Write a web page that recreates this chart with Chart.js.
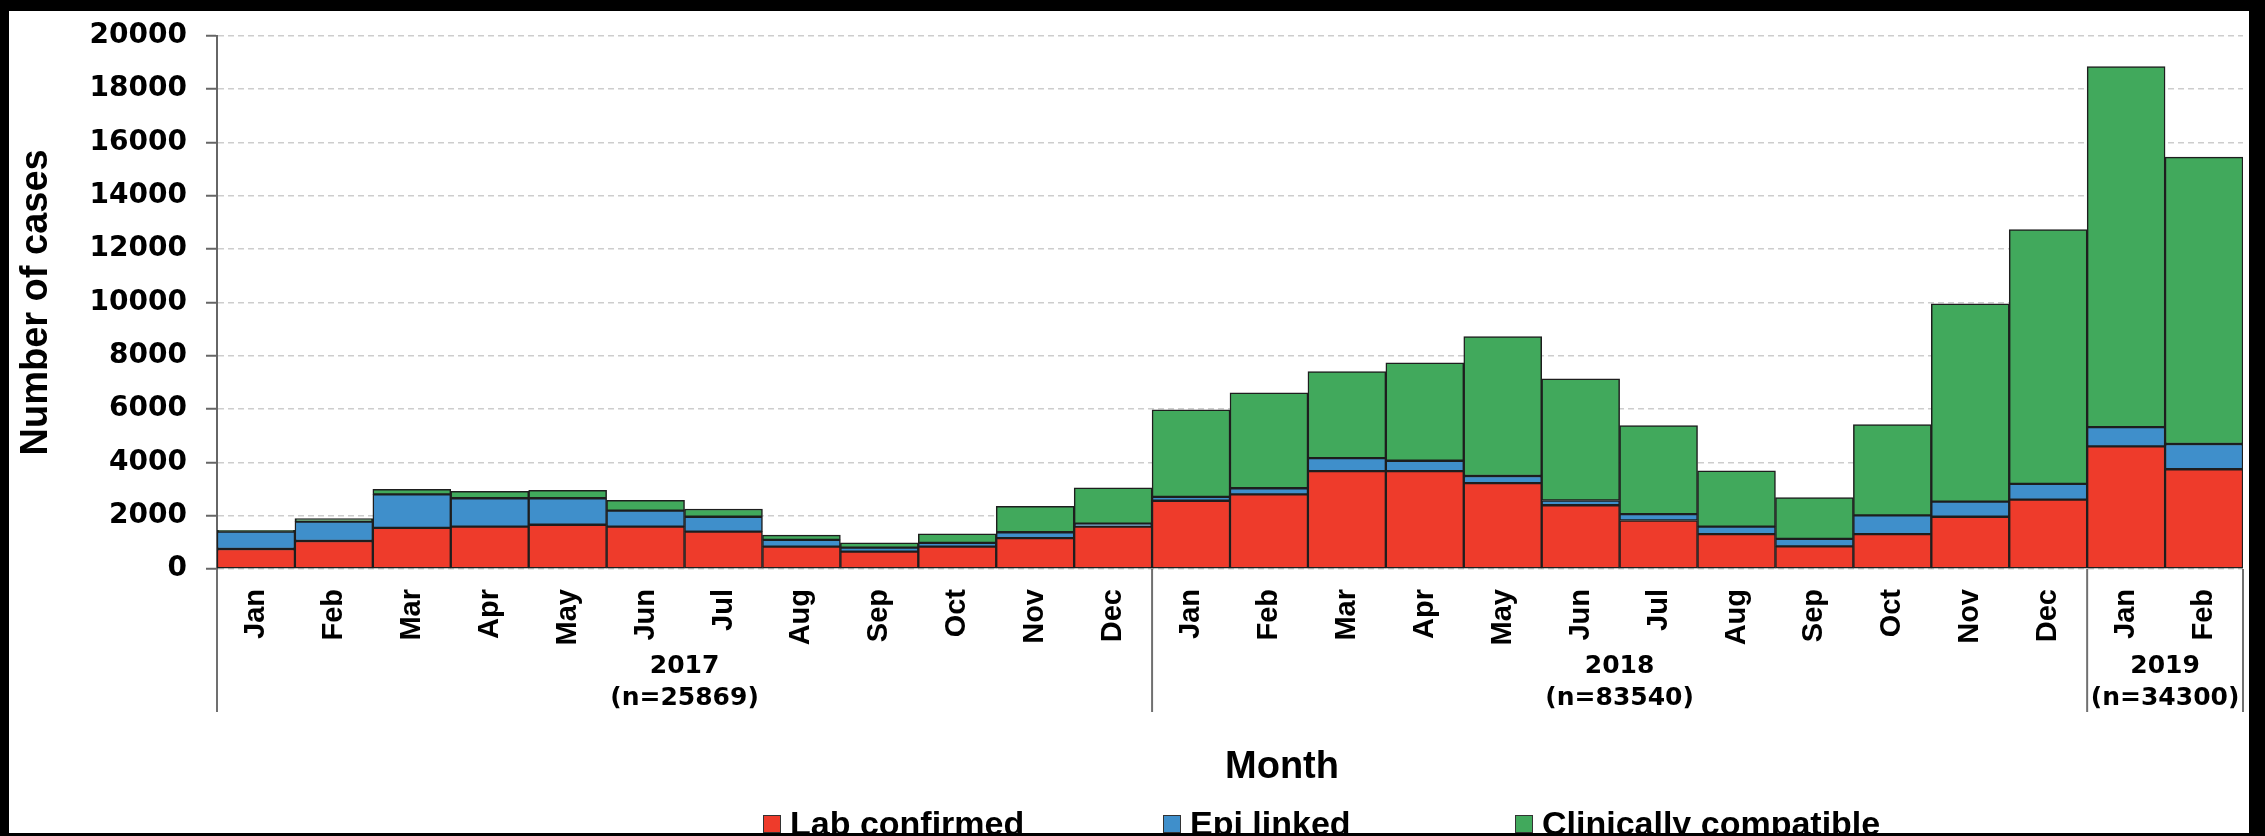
<!DOCTYPE html>
<html>
<head>
<meta charset="utf-8">
<script src="https://cdn.jsdelivr.net/npm/chart.js@4.4.1/dist/chart.umd.min.js"></script>
<style>
  html, body { margin: 0; padding: 0; background: #fff; }
  #wrap { position: relative; width: 2265px; height: 836px; overflow: hidden; }
  #frame {
    position: absolute; left: 0; top: 0; width: 2265px; height: 836px;
    box-sizing: border-box; pointer-events: none;
    border-style: solid; border-color: #000;
    border-width: 11px 16px 3px 9px;
  }
</style>
</head>
<body>
<div id="wrap">
  <canvas id="casesChart" width="2265" height="836"></canvas>
  <div id="frame"></div>
</div>
<script>
// categories
var months = ['Jan', 'Feb', 'Mar', 'Apr', 'May', 'Jun', 'Jul', 'Aug', 'Sep', 'Oct', 'Nov', 'Dec',
              'Jan', 'Feb', 'Mar', 'Apr', 'May', 'Jun', 'Jul', 'Aug', 'Sep', 'Oct', 'Nov', 'Dec',
              'Jan', 'Feb'];
var years = ['2017', '2018', '2019'];
var yearTotals = ['(n=25869)', '(n=83540)', '(n=34300)'];
var monthsPerYear = [12, 12, 2];

// series values
var labConfirmed = [750, 1050, 1540, 1590, 1660, 1590, 1400, 840, 650, 840, 1160, 1590,
                    2560, 2800, 3670, 3670, 3220, 2390, 1820, 1310, 850, 1310, 1960, 2600,
                    4600, 3740];
var epiLinked = [650, 730, 1260, 1065, 995, 600, 560, 250, 150, 140, 220, 110,
                 145, 230, 490, 390, 270, 180, 240, 280, 280, 700, 570, 590,
                 720, 950];
var clinicallyCompatible = [50, 110, 190, 255, 300, 390, 290, 180, 180, 340, 970, 1345,
                            3265, 3580, 3245, 3670, 5230, 4560, 3320, 2090, 1550, 3410, 7420, 9540,
                            13530, 10760];

var seriesNames = ['Lab confirmed', 'Epi linked', 'Clinically compatible'];
var seriesColors = ['#EE3B2B', '#3F8FCB', '#41A95C'];

// y axis ticks
var yMax = 20000;
var yStep = 2000;

// legend text positions
var legendTextX = [790, 1190, 1542];

// draws the year groups under the month labels, the "Month" title and the legend
var yearGroups = {
    id: 'yearGroups',
    afterDraw: function (chart) {
        var ctx = chart.ctx;
        var x = chart.scales.x;
        var area = chart.chartArea;
        var half = (x.getPixelForValue(1) - x.getPixelForValue(0)) / 2;

        ctx.save();
        ctx.strokeStyle = '#707070';
        ctx.lineWidth = 2;
        ctx.fillStyle = '#000';
        ctx.textAlign = 'center';
        ctx.textBaseline = 'middle';
        ctx.font = 'bold 25px "DejaVu Sans", sans-serif';

        var first = 0;
        var edge0 = x.getPixelForValue(0) - half;
        ctx.beginPath();
        ctx.moveTo(edge0, area.bottom);
        ctx.lineTo(edge0, area.bottom + 143);
        ctx.stroke();
        monthsPerYear.forEach(function (count, i) {
            var last = first + count - 1;
            var left = x.getPixelForValue(first) - half;
            var right = x.getPixelForValue(last) + half;
            ctx.beginPath();
            ctx.moveTo(right, area.bottom);
            ctx.lineTo(right, area.bottom + 143);
            ctx.stroke();
            var cx = (left + right) / 2;
            ctx.fillText(years[i], cx, area.bottom + 97);
            ctx.fillText(yearTotals[i], cx, area.bottom + 129);
            first += count;
        });

        ctx.font = 'bold 38px "Liberation Sans", Arial, sans-serif';
        ctx.fillText('Month', (area.left + area.right) / 2 + 52, area.bottom + 199);

        // legend
        ctx.font = 'bold 34px "Liberation Sans", Arial, sans-serif';
        ctx.textAlign = 'left';
        ctx.textBaseline = 'alphabetic';
        seriesNames.forEach(function (name, i) {
            var bx = legendTextX[i] - 27;
            ctx.fillStyle = seriesColors[i];
            ctx.fillRect(bx, 815, 18, 18);
            ctx.strokeStyle = '#333';
            ctx.lineWidth = 1;
            ctx.strokeRect(bx + 0.5, 815.5, 17, 17);
            ctx.fillStyle = '#000';
            ctx.fillText(name, legendTextX[i], 835);
        });
        ctx.restore();
    }
};

var ctx = document.getElementById('casesChart').getContext('2d');
var casesChart = new Chart(ctx, {
    type: 'bar',
    data: {
        labels: months,
        datasets: [labConfirmed, epiLinked, clinicallyCompatible].map(function (values, i) {
            return {
                label: seriesNames[i],
                data: values,
                backgroundColor: seriesColors[i],
                borderColor: '#1e1e1e',
                borderWidth: 1.5,
                borderSkipped: false,
                barPercentage: 1,
                categoryPercentage: 1
            };
        })
    },
    options: {
        responsive: false,
        animation: false,
        devicePixelRatio: 1,
        layout: { padding: { left: 9, right: 22, top: 24, bottom: 0 } },
        plugins: {
            legend: { display: false },
            tooltip: { enabled: false }
        },
        scales: {
            x: {
                stacked: true,
                grid: { display: false },
                border: { display: false },
                ticks: {
                    color: '#000',
                    font: { family: '"Liberation Sans", Arial, sans-serif', size: 29, weight: 'bold' },
                    minRotation: 90,
                    maxRotation: 90,
                    autoSkip: false,
                    padding: 12
                },
                afterFit: function (scale) { scale.height = 267; }
            },
            y: {
                stacked: true,
                min: 0,
                max: yMax,
                ticks: {
                    stepSize: yStep,
                    color: '#000',
                    padding: 19,
                    font: { family: '"DejaVu Sans", sans-serif', size: 28, weight: 'bold' },
                    callback: function (value) { return String(value); }
                },
                grid: {
                    color: '#cdcdcd',
                    lineWidth: 1.5,
                    tickLength: 11,
                    tickColor: '#666',
                    tickWidth: 2
                },
                border: { color: '#666', width: 2, dash: [6, 4] },
                title: {
                    display: true,
                    text: 'Number of cases',
                    color: '#000',
                    font: { family: '"Liberation Sans", Arial, sans-serif', size: 38, weight: 'bold' },
                    padding: { top: 5, bottom: 0 }
                },
                afterFit: function (scale) { scale.width = 208; }
            }
        }
    },
    plugins: [yearGroups]
});
</script>
</body>
</html>
